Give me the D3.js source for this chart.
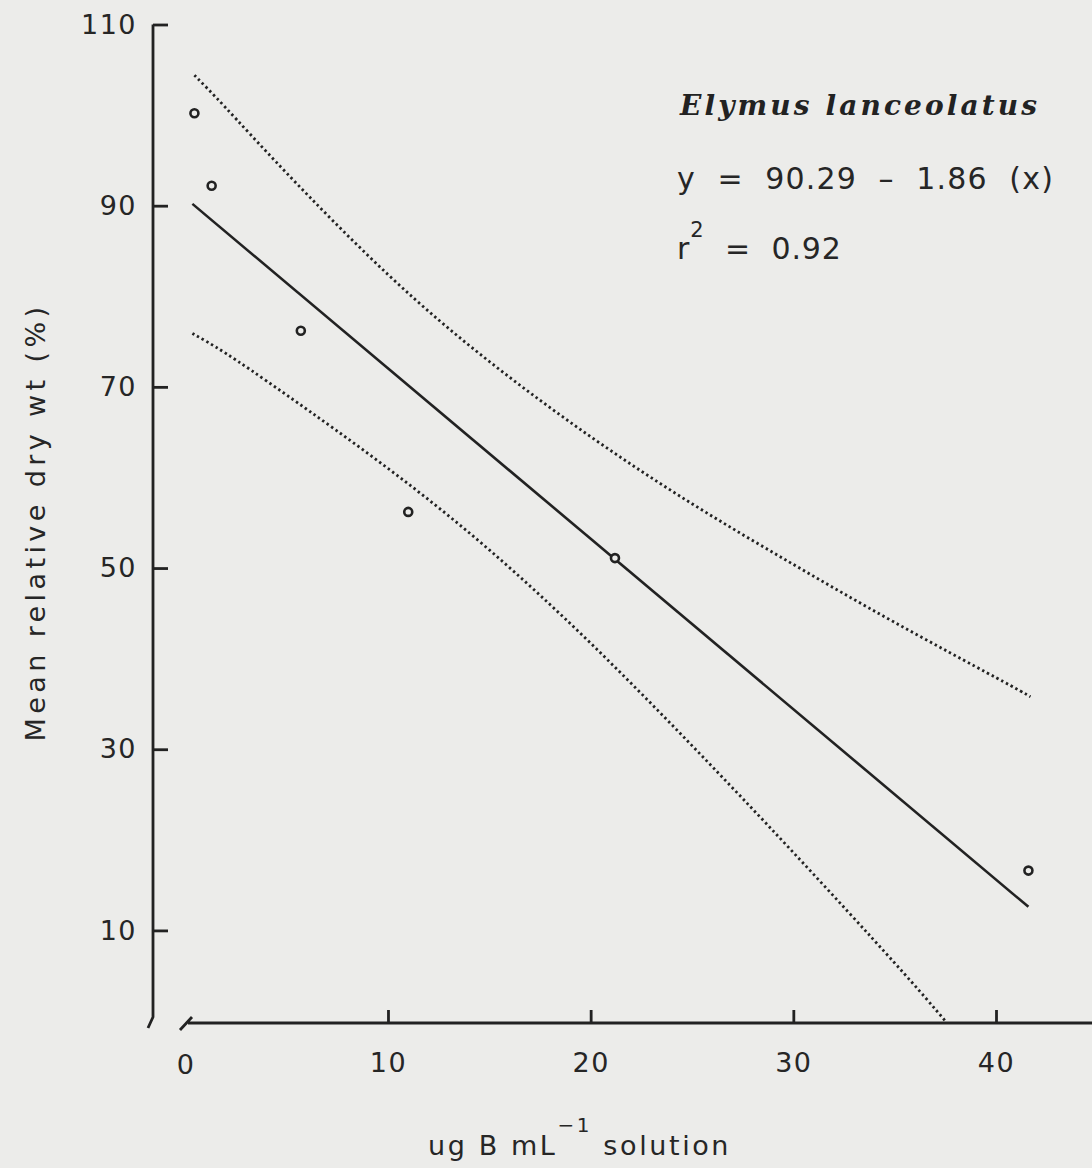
<!DOCTYPE html>
<html>
<head>
<meta charset="utf-8">
<script src="https://cdn.jsdelivr.net/npm/d3@7"></script>
<style>
  body { margin: 0; background: #ececea; }
  svg { display: block; }
  .lbl { font-family: "DejaVu Sans", sans-serif; fill: #262626; }
</style>
</head>
<body>
<div id="chart"></div>
<script>
// observed points (ug B per mL, mean relative dry wt %)
var boron = [0.45, 1.3, 5.7, 11.0, 21.2, 41.6];
var dryWt = [100.2, 92.2, 76.2, 56.2, 51.1, 16.6];

// fitted line ends
var fitX = [0.35, 41.6];
var fitY = [90.2, 12.6];

// upper and lower dotted bands
var upX = [0.45, 2, 5, 10, 15, 20, 25, 30, 35, 40, 41.7];
var upY = [104.4, 100.8, 93.6, 82.4, 72.8, 64.5, 57.1, 50.4, 44.0, 37.9, 35.8];
var loX = [0.35, 2, 5, 10, 15, 20, 25, 30, 35, 37.5];
var loY = [75.9, 73.7, 69.1, 61.0, 52.0, 41.7, 30.4, 18.6, 6.4, 0];

var yTicks = [10, 30, 50, 70, 90, 110];
var xTicks = [0, 10, 20, 30, 40];

var W = 1092, H = 1168;
var ink = "#222";

var svg = d3.select("#chart").append("svg")
    .attr("width", W)
    .attr("height", H);

svg.append("rect").attr("width", W).attr("height", H).attr("fill", "#ececea");

var x = d3.scaleLinear().domain([0, 40]).range([185.3, 996]);
var y = d3.scaleLinear().domain([0, 110]).range([1021, 24.5]);

var axX = 153, axY = 1023;

// y axis, ticks pointing inward
var yAxis = d3.axisLeft(y).tickValues(yTicks).tickSize(-15).tickPadding(16);
var gy = svg.append("g").attr("transform", `translate(${axX},0)`).call(yAxis);
gy.select(".domain").remove();
gy.selectAll(".tick line").attr("stroke", ink).attr("stroke-width", 2.8);
gy.selectAll(".tick text")
    .attr("class", "lbl")
    .attr("font-size", 27)
    .attr("letter-spacing", 1.5)
    .attr("fill", ink);

// y axis line with break mark
svg.append("path")
    .attr("d", `M${axX},${y(110)} L${axX},1017 L${axX - 5},1028`)
    .attr("fill", "none").attr("stroke", ink).attr("stroke-width", 2.8);

// x axis
var xAxis = d3.axisBottom(x).tickValues(xTicks.slice(1)).tickSize(-13).tickPadding(30);
var gx = svg.append("g").attr("transform", `translate(0,${axY})`).call(xAxis);
gx.select(".domain").remove();
gx.selectAll(".tick line").attr("stroke", ink).attr("stroke-width", 2.8);
gx.selectAll(".tick text")
    .attr("class", "lbl")
    .attr("font-size", 27)
    .attr("letter-spacing", 1.5)
    .attr("fill", ink);

// 0 label sits under the broken start
svg.append("text").attr("class", "lbl")
    .attr("x", x(0)).attr("y", 1074)
    .attr("text-anchor", "middle")
    .attr("font-size", 27)
    .text(xTicks[0]);

svg.append("path")
    .attr("d", `M180,1030 L192,1017 M188,${axY} L${W},${axY}`)
    .attr("fill", "none").attr("stroke", ink).attr("stroke-width", 2.8);

// bands
var line = d3.line().x(d => x(d[0])).y(d => y(d[1])).curve(d3.curveNatural);

svg.append("path")
    .datum(d3.zip(upX, upY))
    .attr("d", line)
    .attr("fill", "none").attr("stroke", ink)
    .attr("stroke-width", 2.8).attr("stroke-dasharray", "2.4,3");

svg.append("path")
    .datum(d3.zip(loX, loY))
    .attr("d", line)
    .attr("fill", "none").attr("stroke", ink)
    .attr("stroke-width", 2.8).attr("stroke-dasharray", "2.4,3");

// fitted line
svg.append("path")
    .datum(d3.zip(fitX, fitY))
    .attr("d", d3.line().x(d => x(d[0])).y(d => y(d[1])))
    .attr("fill", "none").attr("stroke", ink).attr("stroke-width", 2.6);

// points
svg.selectAll("circle.pt")
    .data(d3.zip(boron, dryWt))
    .enter().append("circle")
    .attr("class", "pt")
    .attr("cx", d => x(d[0]))
    .attr("cy", d => y(d[1]))
    .attr("r", 4)
    .attr("fill", "#ececea")
    .attr("stroke", ink)
    .attr("stroke-width", 2.6);

// species name and stats
svg.append("text")
    .attr("x", 680).attr("y", 115)
    .attr("font-family", "DejaVu Serif, serif")
    .attr("font-style", "italic")
    .attr("font-weight", "bold")
    .attr("font-size", 28)
    .attr("letter-spacing", 3.1)
    .attr("fill", ink)
    .text("Elymus lanceolatus");

svg.append("text").attr("class", "lbl")
    .attr("x", 677).attr("y", 189)
    .attr("font-size", 30)
    .attr("letter-spacing", 1.2)
    .attr("xml:space", "preserve")
    .text("y  =  90.29  \u2013  1.86  (x)");

var r2 = svg.append("text").attr("class", "lbl")
    .attr("x", 677).attr("y", 259)
    .attr("font-size", 30)
    .attr("letter-spacing", 0.8)
    .attr("xml:space", "preserve");
r2.append("tspan").text("r");
r2.append("tspan").attr("dy", -22).attr("font-size", 21).text("2");
r2.append("tspan").attr("dy", 22).text("  =  0.92");

// axis titles
svg.append("text").attr("class", "lbl")
    .attr("transform", "translate(45,522) rotate(-90)")
    .attr("text-anchor", "middle")
    .attr("font-size", 27)
    .attr("letter-spacing", 4.4)
    .text("Mean relative dry wt (%)");

var xt = svg.append("text").attr("class", "lbl")
    .attr("x", 428).attr("y", 1155)
    .attr("font-size", 27)
    .attr("letter-spacing", 2.6)
    .attr("xml:space", "preserve");
xt.append("tspan").text("ug B mL");
xt.append("tspan").attr("dy", -23).attr("font-size", 20).text("\u22121");
xt.append("tspan").attr("dy", 23).text(" solution");
</script>
</body>
</html>
